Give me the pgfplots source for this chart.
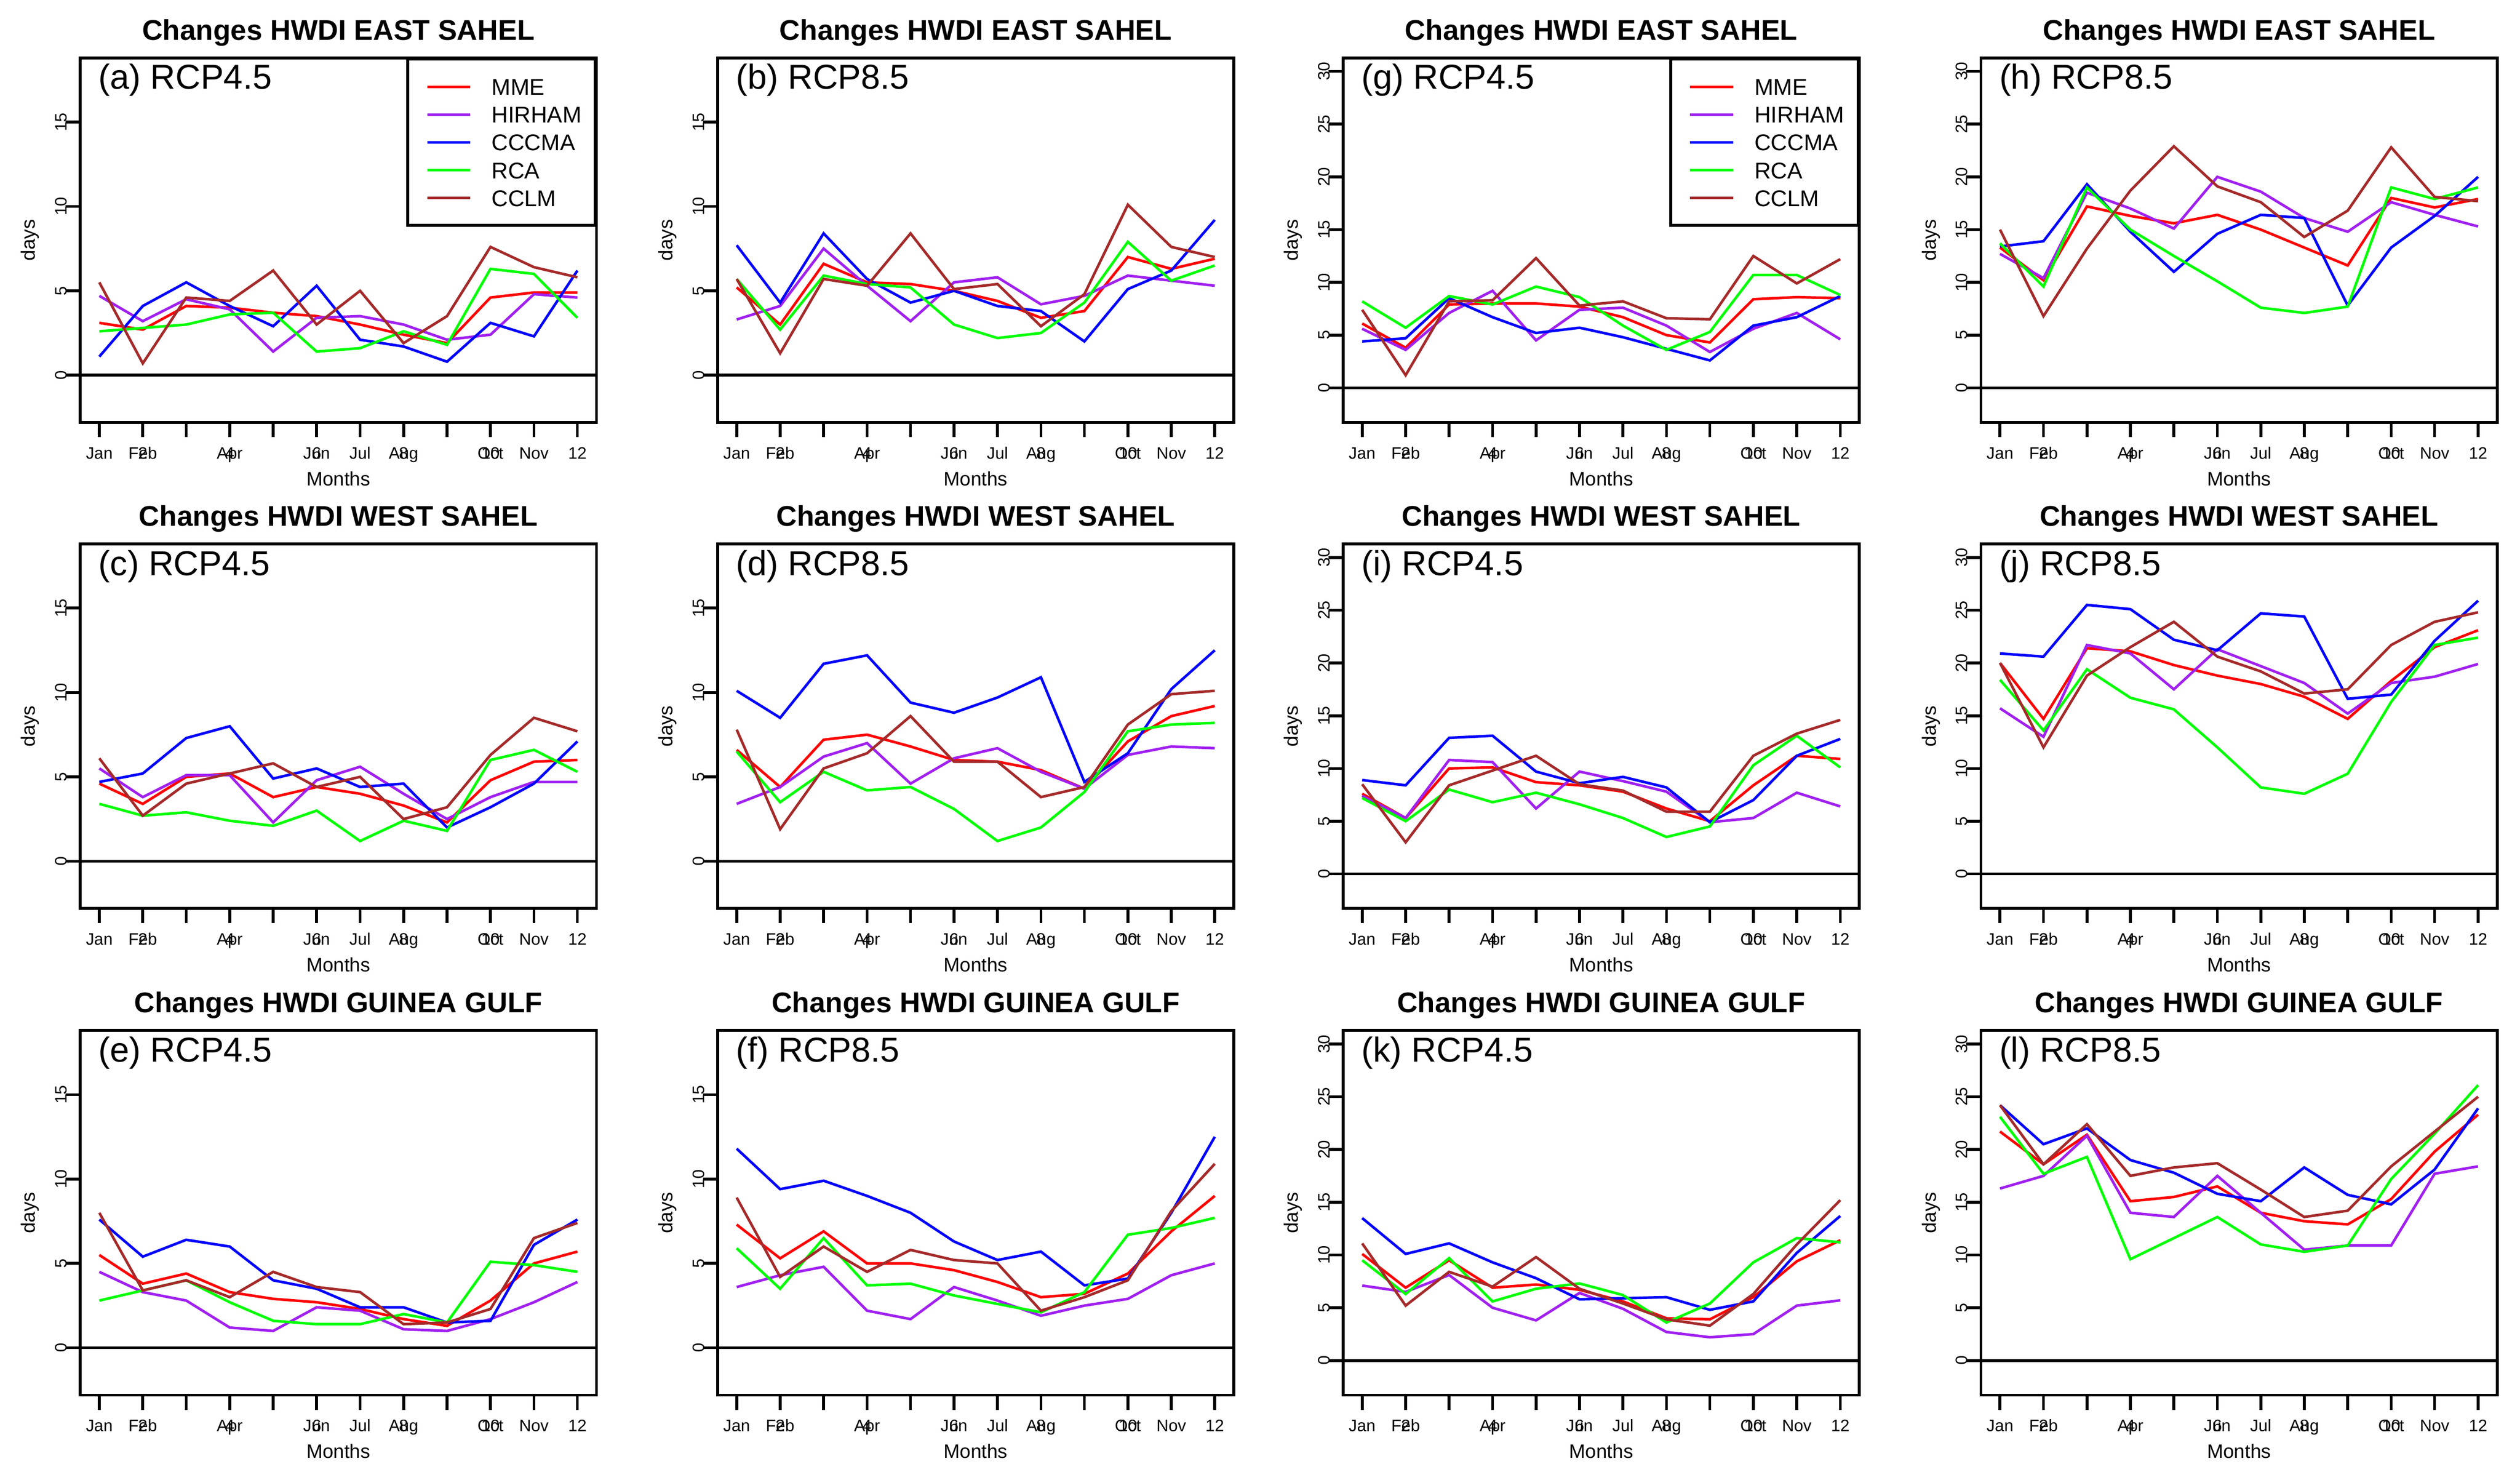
\documentclass[border=0pt]{standalone}
\usepackage{fontspec}
\setmainfont{Liberation Sans}
\usepackage{pgfplots}
\usepackage{pgfplotstable}
\pgfplotsset{compat=1.18}

\definecolor{rred}{RGB}{255,0,0}
\definecolor{rpurple}{RGB}{160,32,240}
\definecolor{rblue}{RGB}{0,0,255}
\definecolor{rgreen}{RGB}{0,255,0}
\definecolor{rbrown}{RGB}{165,42,42}

\newcommand{\ov}[2]{\makebox[0pt]{#1}\makebox[0pt]{#2}}
\newcommand{\fs}[1]{\fontsize{#1}{#1}\selectfont}

% columns: month, MME, HIRHAM, CCCMA, RCA, CCLM
\pgfplotstableread{
m MME HIR CCC RCA CCLM
1 3.1 4.7 1.1 2.6 5.5
2 2.7 3.2 4.1 2.8 0.7
3 4.1 4.5 5.5 3.0 4.6
4 4.0 3.9 4.1 3.6 4.4
5 3.7 1.4 2.9 3.7 6.2
6 3.5 3.4 5.3 1.4 3.0
7 3.0 3.5 2.1 1.6 5.0
8 2.4 3.0 1.7 2.6 1.9
9 1.9 2.1 0.8 1.8 3.5
10 4.6 2.4 3.1 6.3 7.6
11 4.9 4.8 2.3 6.0 6.4
12 4.9 4.6 6.2 3.4 5.8
}\tA
\pgfplotstableread{
m MME HIR CCC RCA CCLM
1 5.2 3.3 7.7 5.7 5.7
2 3.0 4.1 4.3 2.7 1.3
3 6.6 7.5 8.4 5.9 5.7
4 5.5 5.3 5.7 5.4 5.3
5 5.4 3.2 4.3 5.2 8.4
6 5.0 5.5 5.0 3.0 5.1
7 4.4 5.8 4.1 2.2 5.4
8 3.4 4.2 3.8 2.5 2.9
9 3.8 4.7 2.0 4.3 4.8
10 7.0 5.9 5.1 7.9 10.1
11 6.3 5.6 6.2 5.6 7.6
12 6.9 5.3 9.2 6.5 7.0
}\tB
\pgfplotstableread{
m MME HIR CCC RCA CCLM
1 4.6 5.5 4.7 3.4 6.1
2 3.4 3.8 5.2 2.7 2.7
3 5.0 5.1 7.3 2.9 4.6
4 5.2 5.1 8.0 2.4 5.2
5 3.8 2.3 4.9 2.1 5.8
6 4.4 4.8 5.5 3.0 4.4
7 4.0 5.6 4.4 1.2 5.0
8 3.3 4.0 4.6 2.4 2.5
9 2.3 2.5 2.0 1.8 3.2
10 4.8 3.8 3.2 6.0 6.3
11 5.9 4.7 4.6 6.6 8.5
12 6.0 4.7 7.1 5.3 7.7
}\tC
\pgfplotstableread{
m MME HIR CCC RCA CCLM
1 6.6 3.4 10.1 6.5 7.8
2 4.4 4.4 8.5 3.5 1.9
3 7.2 6.2 11.7 5.3 5.5
4 7.5 7.0 12.2 4.2 6.4
5 6.8 4.6 9.4 4.4 8.6
6 6.0 6.1 8.8 3.1 5.9
7 5.9 6.7 9.7 1.2 5.9
8 5.4 5.3 10.9 2.0 3.8
9 4.3 4.3 4.7 4.1 4.4
10 7.1 6.3 6.4 7.7 8.1
11 8.6 6.8 10.2 8.1 9.9
12 9.2 6.7 12.5 8.2 10.1
}\tD
\pgfplotstableread{
m MME HIR CCC RCA CCLM
1 5.5 4.5 7.6 2.8 8.0
2 3.8 3.3 5.4 3.4 3.4
3 4.4 2.8 6.4 4.0 4.0
4 3.3 1.2 6.0 2.7 3.0
5 2.9 1.0 4.0 1.6 4.5
6 2.7 2.4 3.5 1.4 3.6
7 2.3 2.2 2.4 1.4 3.3
8 1.7 1.1 2.4 2.0 1.4
9 1.3 1.0 1.5 1.5 1.5
10 2.8 1.7 1.6 5.1 2.3
11 5.0 2.7 6.1 4.9 6.5
12 5.7 3.9 7.6 4.5 7.4
}\tE
\pgfplotstableread{
m MME HIR CCC RCA CCLM
1 7.3 3.6 11.8 5.9 8.9
2 5.3 4.3 9.4 3.5 4.2
3 6.9 4.8 9.9 6.5 6.0
4 5.0 2.2 9.0 3.7 4.5
5 5.0 1.7 8.0 3.8 5.8
6 4.6 3.6 6.3 3.1 5.2
7 3.9 2.8 5.2 2.6 5.0
8 3.0 1.9 5.7 2.1 2.2
9 3.2 2.5 3.7 3.3 3.0
10 4.4 2.9 4.1 6.7 4.0
11 6.9 4.3 8.0 7.1 8.1
12 9.0 5.0 12.5 7.7 10.9
}\tF
\pgfplotstableread{
m MME HIR CCC RCA CCLM
1 6.1 5.6 4.4 8.2 7.4
2 3.8 3.6 4.7 5.7 1.2
3 7.9 7.1 8.5 8.7 8.2
4 8.0 9.2 6.7 7.9 8.3
5 8.0 4.5 5.2 9.6 12.3
6 7.7 7.4 5.7 8.6 7.8
7 6.7 7.6 4.8 5.9 8.2
8 5.0 5.9 3.7 3.6 6.6
9 4.3 3.4 2.6 5.3 6.5
10 8.4 5.6 5.9 10.7 12.5
11 8.6 7.1 6.7 10.7 9.9
12 8.5 4.6 8.7 8.8 12.2
}\tG
\pgfplotstableread{
m MME HIR CCC RCA CCLM
1 13.3 12.7 13.4 13.7 15.0
2 10.2 10.4 13.9 9.6 6.8
3 17.2 18.5 19.3 19.0 13.2
4 16.3 17.0 14.8 15.0 18.7
5 15.6 15.1 11.0 12.5 22.9
6 16.4 20.0 14.6 10.1 19.1
7 15.0 18.6 16.4 7.6 17.6
8 13.3 16.1 16.1 7.1 14.3
9 11.6 14.8 7.8 7.7 16.8
10 18.0 17.6 13.3 19.0 22.8
11 17.1 16.4 16.3 17.9 18.1
12 17.9 15.3 20.0 19.0 17.7
}\tH
\pgfplotstableread{
m MME HIR CCC RCA CCLM
1 7.6 7.4 8.9 7.2 8.5
2 5.3 5.3 8.4 5.0 3.0
3 10.0 10.8 12.9 8.0 8.4
4 10.1 10.6 13.1 6.8 9.8
5 8.7 6.2 9.7 7.7 11.2
6 8.4 9.7 8.6 6.6 8.5
7 7.8 8.8 9.2 5.3 7.9
8 6.2 7.8 8.2 3.5 5.9
9 5.0 4.9 4.9 4.5 5.9
10 8.4 5.3 7.0 10.3 11.2
11 11.2 7.7 11.2 13.1 13.3
12 10.9 6.4 12.8 10.1 14.6
}\tI
\pgfplotstableread{
m MME HIR CCC RCA CCLM
1 20.0 15.7 20.9 18.4 20.0
2 14.7 13.0 20.6 13.6 12.0
3 21.4 21.7 25.5 19.4 18.8
4 21.1 20.9 25.1 16.7 21.5
5 19.8 17.5 22.2 15.6 23.9
6 18.8 21.3 21.2 12.0 20.6
7 18.0 19.7 24.7 8.2 19.2
8 16.8 18.1 24.4 7.6 17.1
9 14.7 15.2 16.6 9.5 17.5
10 18.3 18.1 17.0 16.3 21.7
11 21.5 18.7 22.1 21.7 23.9
12 23.1 19.9 25.9 22.4 24.8
}\tJ
\pgfplotstableread{
m MME HIR CCC RCA CCLM
1 10.1 7.1 13.5 9.5 11.1
2 6.9 6.5 10.1 6.3 5.2
3 9.5 8.1 11.1 9.7 8.4
4 6.9 5.0 9.3 5.6 7.0
5 7.2 3.8 7.8 6.8 9.8
6 6.7 6.4 5.8 7.3 6.8
7 5.6 4.9 5.9 6.2 5.4
8 4.0 2.7 6.0 3.6 3.9
9 3.9 2.2 4.8 5.4 3.3
10 6.0 2.5 5.6 9.3 6.3
11 9.4 5.2 10.2 11.6 11.0
12 11.4 5.7 13.7 11.2 15.2
}\tK
\pgfplotstableread{
m MME HIR CCC RCA CCLM
1 21.7 16.3 24.2 23.1 24.2
2 18.6 17.5 20.5 17.7 18.6
3 21.4 21.3 22.0 19.3 22.4
4 15.1 14.0 19.0 9.6 17.5
5 15.5 13.6 17.8 11.6 18.3
6 16.5 17.5 15.8 13.6 18.7
7 14.0 14.0 15.1 11.0 16.2
8 13.2 10.5 18.3 10.3 13.6
9 12.9 10.9 15.7 10.9 14.2
10 15.3 10.9 14.8 17.2 18.4
11 19.8 17.7 18.1 21.5 21.7
12 23.3 18.4 23.9 26.1 25.0
}\tL

\pgfplotsset{
  lMME/.style={rred, line width=0.55pt},
  lHIR/.style={rpurple, line width=0.55pt},
  lCCC/.style={rblue, line width=0.55pt},
  lRCA/.style={rgreen, line width=0.55pt},
  lCCLM/.style={rbrown, line width=0.55pt},
  every axis title shift=0pt,
  hwdi/.style={
    scale only axis, width=108.8pt, height=76.8pt,
    anchor=north west,
    xmin=0.56, xmax=12.44,
    xtick={1,...,12},
    xticklabels={Jan,\ov{Feb}{2},{},\ov{Apr}{4},{},\ov{Jun}{6},Jul,\ov{Aug}{8},{},\ov{Oct}{10},Nov,12},
    xtick pos=lower, ytick pos=left,
    tick align=outside, major tick length=3.1pt,
    tick style={black, line width=0.6pt},
    axis line style={line width=0.6pt},
    /pgf/number format/assume math mode=true,
    xticklabel style={font=\fs{3.5}, anchor=base, inner sep=0pt, yshift=-4.6pt},
    yticklabel style={font=\fs{3.5}, xshift=0.3pt, rotate=90, anchor=base, inner sep=0pt},
    xlabel=Months, ylabel=days,
    xlabel style={at={(axis description cs:0.5,-0.173)}, anchor=base, inner sep=0pt, font=\fs{4.1}},
    ylabel style={at={(axis description cs:-0.087,0.5)}, anchor=base, inner sep=0pt, font=\fs{4.1}},
    title style={at={(axis description cs:0.5,1.049)}, anchor=base, yshift=0pt, inner sep=0pt, font=\bfseries\fs{6}},
    legend style={at={(1,1)}, anchor=north east, draw=black, line width=0.6pt, fill=white,
      inner xsep=0pt, inner ysep=4.05pt, row sep=2.35pt, column sep=4.2pt, font=\fs{4.8},
      nodes={inner sep=0pt, text height=3.5pt, text depth=0pt, text width=21.8pt, align=left}},
    legend image code/.code={\path[draw=none] (0pt,-1.75pt) rectangle (13.2pt,1.75pt);
      \draw[##1] (4.1pt,0pt) -- (13.2pt,0pt);},
  }
}

\newcommand{\panel}[9]{%
\begin{axis}[hwdi, at={(#1,#2)}, title={#3}, ymin=#5, ymax=#6, ytick={#7}, #9]
\addplot[lMME] table[x=m,y=MME]{#4};
\addplot[lHIR] table[x=m,y=HIR]{#4};
\addplot[lCCC] table[x=m,y=CCC]{#4};
\addplot[lRCA] table[x=m,y=RCA]{#4};
\addplot[lCCLM] table[x=m,y=CCLM]{#4};
\addplot[black, line width=0.6pt, forget plot] coordinates {(0.56,0) (12.44,0)};
\node[anchor=base west, inner sep=0pt, font=\fs{7.3}, xshift=3.7pt, yshift=-6.6pt] at (rel axis cs:0,1) {#8};
\end{axis}}

\begin{document}
\begin{tikzpicture}
\useasboundingbox (0,0) rectangle (531pt,310.1pt);
\panel{16.9pt}{297.9pt}{Changes HWDI EAST SAHEL}{\tA}{-2.8}{18.8}{0,5,10,15}{(a) RCP4.5}{legend entries={MME,HIRHAM,CCCMA,RCA,CCLM}}
\panel{151.2pt}{297.9pt}{Changes HWDI EAST SAHEL}{\tB}{-2.8}{18.8}{0,5,10,15}{(b) RCP8.5}{}
\panel{283.0pt}{297.9pt}{Changes HWDI EAST SAHEL}{\tG}{-3.28}{31.28}{0,5,...,30}{(g) RCP4.5}{legend entries={MME,HIRHAM,CCCMA,RCA,CCLM}}
\panel{417.4pt}{297.9pt}{Changes HWDI EAST SAHEL}{\tH}{-3.28}{31.28}{0,5,...,30}{(h) RCP8.5}{}
\panel{16.9pt}{195.5pt}{Changes HWDI WEST SAHEL}{\tC}{-2.8}{18.8}{0,5,10,15}{(c) RCP4.5}{}
\panel{151.2pt}{195.5pt}{Changes HWDI WEST SAHEL}{\tD}{-2.8}{18.8}{0,5,10,15}{(d) RCP8.5}{}
\panel{283.0pt}{195.5pt}{Changes HWDI WEST SAHEL}{\tI}{-3.28}{31.28}{0,5,...,30}{(i) RCP4.5}{}
\panel{417.4pt}{195.5pt}{Changes HWDI WEST SAHEL}{\tJ}{-3.28}{31.28}{0,5,...,30}{(j) RCP8.5}{}
\panel{16.9pt}{93.0pt}{Changes HWDI GUINEA GULF}{\tE}{-2.8}{18.8}{0,5,10,15}{(e) RCP4.5}{}
\panel{151.2pt}{93.0pt}{Changes HWDI GUINEA GULF}{\tF}{-2.8}{18.8}{0,5,10,15}{(f) RCP8.5}{}
\panel{283.0pt}{93.0pt}{Changes HWDI GUINEA GULF}{\tK}{-3.28}{31.28}{0,5,...,30}{(k) RCP4.5}{}
\panel{417.4pt}{93.0pt}{Changes HWDI GUINEA GULF}{\tL}{-3.28}{31.28}{0,5,...,30}{(l) RCP8.5}{}
\end{tikzpicture}
\end{document}
